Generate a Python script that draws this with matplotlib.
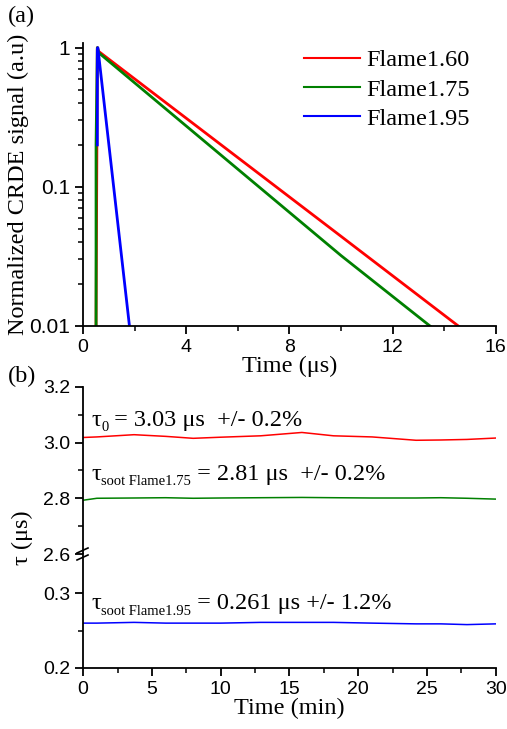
import numpy as np
import matplotlib
matplotlib.use('Agg')
import matplotlib.pyplot as plt
from matplotlib.transforms import offset_copy

serif = ['Liberation Serif', 'DejaVu Serif']
sans = ['Liberation Sans', 'DejaVu Sans']
plt.rcParams['font.family'] = sans

# (a) normalized ring-down signals, knots
t_160 = [0.50, 0.55, 0.60, 10.0, 14.6]
s_160 = [0.01, 1.00, 0.94, 0.044, 0.0098]
t_175 = [0.50, 0.50, 0.55, 0.60, 10.0, 13.5]
s_175 = [0.0098, 0.20, 1.00, 0.92, 0.032, 0.0098]
t_195 = [0.55, 0.55, 0.57, 1.80]
s_195 = [0.20, 0.97, 1.00, 0.0098]
labels_a = ['Flame1.60', 'Flame1.75', 'Flame1.95']

# (b) ring-down time vs measurement time
tm = [0, 1, 3.7, 6, 8, 10, 12.9, 15.9, 18.2, 21, 24.2, 26, 27.9, 30]
tau_0 = [3.018, 3.020, 3.028, 3.022, 3.015, 3.019, 3.024, 3.036, 3.024, 3.020,
         3.008, 3.009, 3.011, 3.016]
tau_175 = [2.793, 2.800, 2.801, 2.802, 2.800, 2.801, 2.802, 2.803, 2.802, 2.801,
           2.801, 2.802, 2.800, 2.797]
tau_195 = [0.260, 0.260, 0.261, 0.260, 0.260, 0.260, 0.261, 0.261, 0.261, 0.260,
           0.259, 0.259, 0.258, 0.259]

red, green, blue = '#ff0000', '#008000', '#0000ff'
FS = 17.5
SUB = 10.5

fig = plt.figure(figsize=(5.07, 7.29), dpi=100)
L, R = 0.164, 0.978


def style(ax, labelsize=14):
    for s in ['top', 'right']:
        ax.spines[s].set_visible(False)
    ax.spines['left'].set_linewidth(1.3)
    ax.spines['bottom'].set_linewidth(1.3)
    ax.tick_params(which='major', direction='out', length=6, width=1.3, labelsize=labelsize)
    ax.tick_params(which='minor', direction='out', length=3.5, width=1.1)


def rich_text(ax, x, y, parts):
    # write (text, size, drop) pieces one after another on a common baseline
    renderer = fig.canvas.get_renderer()
    dx = 0.0
    for s, size, drop in parts:
        tr = offset_copy(ax.transData, fig=fig, x=dx, y=-drop, units='points')
        t = ax.text(x, y, s, family=serif, fontsize=size, transform=tr, va='baseline')
        dx += t.get_window_extent(renderer).width * 72.0 / fig.dpi


# ---- panel (a)
ax1 = fig.add_axes([L, 0.553, R - L, 0.941 - 0.553])
ax1.plot(t_160, s_160, color=red, lw=2.0, label=labels_a[0])
ax1.plot(t_175, s_175, color=green, lw=2.0, label=labels_a[1])
ax1.plot(t_195, s_195, color=blue, lw=2.0, label=labels_a[2])
ax1.set_yscale('log')
ax1.set_xlim(0, 16)
ax1.set_ylim(0.01, 1.08)
ax1.set_xticks([0, 4, 8, 12, 16])
ax1.set_xticks([2, 6, 10, 14], minor=True)
ax1.set_yticks([0.01, 0.1, 1])
ax1.set_yticklabels(['0.01', '0.1', '1'])
style(ax1)
ax1.tick_params(axis='y', labelsize=15)
ax1.set_xlabel('Time (\u03bcs)', family=serif, fontsize=FS, labelpad=0)
ax1.set_ylabel('Normalized CRDE signal (a.u)', family=serif, fontsize=FS, labelpad=0)
leg = ax1.legend(loc='upper right', bbox_to_anchor=(0.99, 1.055), frameon=False,
                 prop={'family': serif, 'size': FS}, handlelength=2.3,
                 handletextpad=0.25, labelspacing=0.3)
for h in leg.get_lines():
    h.set_linewidth(1.5)

# ---- panel (b), broken y axis
ax2 = fig.add_axes([L, 0.240, R - L, 0.4695 - 0.240])
ax3 = fig.add_axes([L, 0.0841, R - L, 0.240 - 0.0841])
ax2.plot(tm, tau_0, color=red, lw=1.1)
ax2.plot(tm, tau_175, color=green, lw=1.1)
ax3.plot(tm, tau_195, color=blue, lw=1.1)
for ax in (ax2, ax3):
    ax.set_xlim(0, 30)
    style(ax)
ax2.set_ylim(2.6, 3.2)
ax2.set_yticks([2.6, 2.8, 3.0, 3.2])
ax2.set_yticklabels(['2.6', '2.8', '3.0', '3.2'])
ax2.set_yticks([2.7, 2.9, 3.1], minor=True)
ax2.spines['bottom'].set_visible(False)
ax2.tick_params(axis='x', which='both', bottom=False, labelbottom=False)
ax3.set_ylim(0.2, 0.353)
ax3.set_yticks([0.2, 0.3])
ax3.set_yticklabels(['0.2', '0.3'])
ax3.set_yticks([0.25], minor=True)
ax3.set_xticks([0, 5, 10, 15, 20, 25, 30])
ax3.set_xticks([2.5, 7.5, 12.5, 17.5, 22.5, 27.5], minor=True)
ax3.set_xlabel('Time (min)', family=serif, fontsize=FS, labelpad=0)

# break marks on the left spine
for dy in (-3.5, 3.5):
    y0 = (729 - 554 + dy) / 729
    fig.add_artist(plt.Line2D([77 / 507, 88 / 507], [y0 - 2.5 / 729, y0 + 2.5 / 729],
                              color='black', lw=1.2))

fig.text(0.044, 0.262, '\u03c4 (\u03bcs)', family=serif, fontsize=FS, rotation=90,
         ha='center', va='center')

rich_text(ax2, 0.6, 3.06, [('\u03c4', FS, 0), ('0', SUB, 4),
                           (' = 3.03 \u03bcs  +/- 0.2%', FS, 0)])
rich_text(ax2, 0.6, 2.866, [('\u03c4', FS, 0), ('soot Flame1.75', SUB, 4),
                            (' = 2.81 \u03bcs  +/- 0.2%', FS, 0)])
rich_text(ax3, 0.6, 0.2785, [('\u03c4', FS, 0), ('soot Flame1.95', SUB, 4),
                             (' = 0.261 \u03bcs +/- 1.2%', FS, 0)])

fig.text(0.016, 0.978, '(a)', family=serif, fontsize=FS, va='center')
fig.text(0.016, 0.483, '(b)', family=serif, fontsize=FS, va='center')

fig.savefig('out.png', dpi=100)
